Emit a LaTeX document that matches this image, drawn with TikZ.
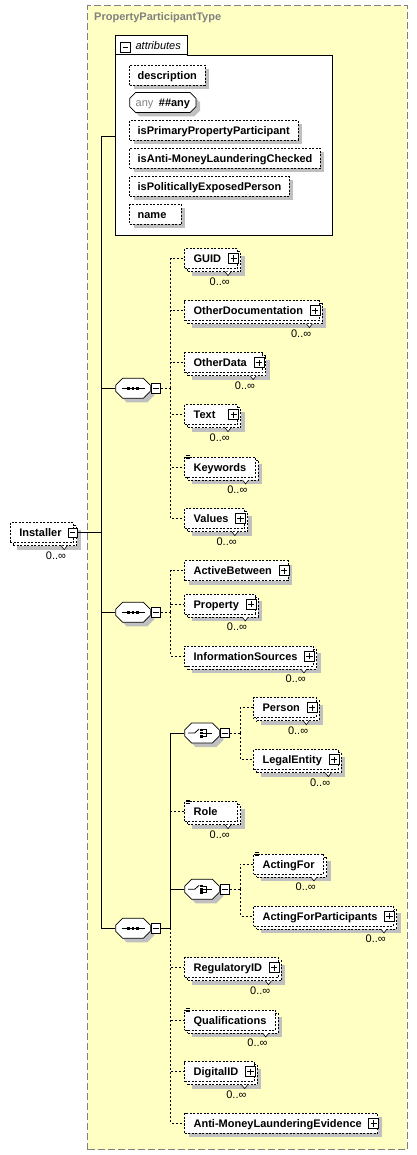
\documentclass[tikz,border=0pt]{standalone}
\usepackage{fontspec}
\setmainfont{Liberation Sans}
\usetikzlibrary{positioning,shapes.misc,shadows}
\definecolor{schemafill}{HTML}{FFFFC4}
\definecolor{shadowgray}{HTML}{C0C0C0}
\definecolor{framegray}{HTML}{808080}

\begin{document}
\begin{tikzpicture}[x=1pt, y=-1pt, font=\fontsize{11}{13}\selectfont,
  schema/.style={draw=framegray, fill=schemafill, line width=0.8pt, dash pattern=on 7pt off 3pt, inner sep=0pt},
  title/.style={text=framegray, font=\fontsize{11}{13}\selectfont\bfseries, inner sep=0pt},
  tab/.style={draw, fill=white, line width=0.8pt, inner sep=0pt, font=\fontsize{11}{13}\selectfont\itshape},
  elem/.style={draw, dash pattern=on 2pt off 1.5pt, line width=0.7pt, fill=white, anchor=west, inner xsep=9pt, inner ysep=0pt,
    minimum height=20pt, text height=9.5pt, text depth=1pt, font=\fontsize{11}{13}\selectfont\bfseries,
    append after command={\pgfextra{\let\elemnode=\tikzlastnode}}},
  attrib/.style={elem, single, inner xsep=8pt},
  anyattr/.style={chamfered rectangle, chamfered rectangle xsep=3pt, chamfered rectangle ysep=3pt, draw, line width=0.7pt, fill=white,
    anchor=west, inner xsep=3pt, inner ysep=0pt, minimum height=20pt, text height=9.5pt, text depth=1pt, single},
  single/.style={drop shadow={shadow xshift=4pt, shadow yshift=-4pt, fill=shadowgray, opacity=1}},
  many/.style={drop shadow={shadow xshift=7pt, shadow yshift=-7pt, fill=shadowgray, opacity=1},
    copy shadow={shadow xshift=3pt, shadow yshift=-3pt, draw=black, fill=white, dash pattern=on 2pt off 1.5pt},
    append after command={node[notch] (\elemnode-notch) at ([xshift=-10pt,yshift=-2.5pt]\elemnode.south east) {}
      node[mult] (\elemnode-occ) at ([xshift=-8pt,yshift=-8.5pt]\elemnode.south east) {0..∞}}},
  notch/.style={anchor=north, inner sep=0pt, minimum width=7pt, minimum height=4.5pt,
    path picture={\fill[white] ([xshift=0.5pt]path picture bounding box.north west) -- ([yshift=0.6pt]path picture bounding box.south)
        -- ([xshift=-0.5pt]path picture bounding box.north east) -- cycle;
      \draw[line width=0.6pt] ([xshift=0.5pt]path picture bounding box.north west) -- ([yshift=0.6pt]path picture bounding box.south)
        -- ([xshift=-0.5pt]path picture bounding box.north east);}},
  mult/.style={anchor=north east, inner sep=0pt, font=\fontsize{11}{13}\selectfont},
  plus/.style={execute at end node={\hspace{7pt}},
    append after command={node[plusbox] (\elemnode-plus) at ([xshift=1pt]\elemnode.east) {}}},
  plusbox/.style={draw, solid, fill=white, line width=0.6pt, minimum size=10pt, inner sep=0pt, anchor=east,
    path picture={\draw[line width=0.6pt] ([yshift=-3.2pt]path picture bounding box.center) -- ([yshift=3.2pt]path picture bounding box.center)
      ([xshift=-3.2pt]path picture bounding box.center) -- ([xshift=3.2pt]path picture bounding box.center);}},
  simple/.style={append after command={node[simplemark] (\elemnode-mark) at ([xshift=0.5pt,yshift=2.5pt]\elemnode.north west) {}}},
  simplemark/.style={anchor=north west, inner sep=0pt, minimum width=5.5pt, minimum height=5pt,
    path picture={\draw[line width=0.6pt] ([xshift=0.5pt,yshift=1.6pt]path picture bounding box.west) -- ++(4.5pt,0)
      ([xshift=0.5pt]path picture bounding box.west) -- ++(4.5pt,0)
      ([xshift=0.5pt,yshift=-1.6pt]path picture bounding box.west) -- ++(4.5pt,0);}},
  comp/.style={chamfered rectangle, chamfered rectangle xsep=3.5pt, chamfered rectangle ysep=3.5pt, draw, line width=0.7pt, fill=white,
    anchor=west, inner xsep=0pt, inner ysep=0pt, minimum height=20pt, text height=9.5pt, text depth=1pt,
    execute at begin node={\hspace*{27.7pt}}, single},
  seqicon/.style={path picture={
      \draw[line width=0.8pt] ([xshift=6pt]path picture bounding box.west) -- ([xshift=-5pt]path picture bounding box.east);
      \fill[black] ([xshift=-4.3pt]path picture bounding box.center) +(-1.4pt,-1.4pt) rectangle +(1.4pt,1.4pt);
      \fill[black] (path picture bounding box.center) +(-1.4pt,-1.4pt) rectangle +(1.4pt,1.4pt);
      \fill[black] ([xshift=4.3pt]path picture bounding box.center) +(-1.4pt,-1.4pt) rectangle +(1.4pt,1.4pt);}},
  choiceicon/.style={path picture={
      \draw[line width=0.8pt] ([xshift=3.5pt]path picture bounding box.west) -- ([xshift=10pt]path picture bounding box.west)
        -- ([xshift=14.5pt,yshift=4pt]path picture bounding box.west);
      \fill[black] ([xshift=17pt,yshift=3.3pt]path picture bounding box.west) +(-1.2pt,-1.2pt) rectangle +(1.2pt,1.2pt);
      \fill[black] ([xshift=17pt]path picture bounding box.west) +(-1.2pt,-1.2pt) rectangle +(1.2pt,1.2pt);
      \fill[black] ([xshift=17pt,yshift=-3.3pt]path picture bounding box.west) +(-1.2pt,-1.2pt) rectangle +(1.2pt,1.2pt);
      \draw[line width=0.6pt] ([xshift=18pt,yshift=3.3pt]path picture bounding box.west) -| ([xshift=22pt,yshift=-3.3pt]path picture bounding box.west)
        -- ([xshift=18pt,yshift=-3.3pt]path picture bounding box.west)
        ([xshift=18pt]path picture bounding box.west) -- ([xshift=27pt]path picture bounding box.west);}},
  minusbox/.style={draw, solid, fill=white, line width=0.6pt, minimum size=9.5pt, inner sep=0pt,
    path picture={\draw[line width=0.6pt] ([xshift=2pt]path picture bounding box.west) -- ([xshift=-2pt]path picture bounding box.east);}},
  req/.style={line width=0.8pt},
  opt/.style={line width=0.8pt, dash pattern=on 2pt off 2pt}]

  \useasboundingbox (0,0) rectangle (417,1155);

  % Type frame
  \node[schema, anchor=north west, minimum width=319.4pt, minimum height=1144pt] (ptype) at (87.3,5.3) {};
  \node[title, anchor=west] (ptitle) at (94,17.7) {PropertyParticipantType};

  % Attributes
  \node[draw, fill=white, line width=0.8pt, anchor=north west, minimum width=216.4pt, minimum height=180pt, inner sep=0pt] (attr) at (115.3,55.3) {};
  \node[tab, anchor=south west, minimum width=72pt, minimum height=19.3pt] (attrtab) at (115.3,55.3) {\hspace{13pt}attributes};
  \draw[white, line width=1.2pt] ([xshift=0.7pt]attrtab.south west) -- ([xshift=-0.7pt]attrtab.south east);
  \node[minusbox] (attrm) at (125.3,47.3) {};
  \node[attrib] (description) at (129.3,75) {description};
  \node[anyattr] (anyattr) at (129.3,102.5) {\textcolor{framegray}{any}\enspace\textbf{\#\#any}};
  \node[attrib] (isprimary) at (129.3,130) {isPrimaryPropertyParticipant};
  \node[attrib] (isamlchecked) at (129.3,158.5) {isAnti-MoneyLaunderingChecked};
  \node[attrib] (ispep) at (129.3,186.5) {isPoliticallyExposedPerson};
  \node[attrib, text width=35.7pt, align=left] (name) at (129.3,214.5) {name};

  % Root element
  \node[elem, many, execute at end node={\hspace{3.3pt}}] (inst) at (10,532.7) {Installer};
  \node[minusbox, right=-6.5pt of inst] (instm) {};
  \coordinate[right=23.6pt of instm.east] (trunk);

  % Compositors
  \node[comp, seqicon] (seqA) at (115.3,388.3) {};
  \node[minusbox, right=0pt of seqA] (seqAm) {};
  \coordinate[right=10pt of seqAm.east] (busA);
  \node[comp, seqicon] (seqB) at (115.3,612.3) {};
  \node[minusbox, right=0pt of seqB] (seqBm) {};
  \coordinate[right=10pt of seqBm.east] (busB);
  \node[comp, seqicon] (seqC) at (115.3,928.3) {};
  \node[minusbox, right=0pt of seqC] (seqCm) {};
  \coordinate[right=10pt of seqCm.east] (busC);
  \node[comp, choiceicon] (choiceA) at (184.3,733) {};
  \node[minusbox, right=0pt of choiceA] (choiceAm) {};
  \coordinate[right=10.4pt of choiceAm.east] (busD);
  \node[comp, choiceicon] (choiceB) at (184.3,889.3) {};
  \node[minusbox, right=0pt of choiceB] (choiceBm) {};
  \coordinate[right=10.4pt of choiceBm.east] (busE);

  % Elements of the first sequence
  \node[elem, many, plus, text width=35pt, align=left] (guid) at (184.3,258.7) {GUID};
  \node[elem, many, plus] (otherdoc) at (184.3,310.7) {OtherDocumentation};
  \node[elem, many, plus] (otherdata) at (184.3,362.7) {OtherData};
  \node[elem, many, plus, text width=35pt, align=left] (text) at (184.3,414.7) {Text};
  \node[elem, many, simple] (keywords) at (184.3,467) {Keywords};
  \node[elem, many, plus] (values) at (184.3,518.7) {Values};

  % Elements of the second sequence
  \node[elem, single, plus] (activebetween) at (184.3,570.7) {ActiveBetween};
  \node[elem, many, plus] (property) at (184.3,604) {Property};
  \node[elem, many, plus] (infosources) at (184.3,656) {InformationSources};

  % Elements of the third sequence
  \node[elem, many, plus] (person) at (253.3,707.7) {Person};
  \node[elem, many, plus] (legalentity) at (253.3,759.7) {LegalEntity};
  \node[elem, many, simple, text width=35pt, align=left] (role) at (184.3,811.7) {Role};
  \node[elem, many, simple] (actingfor) at (253.3,864) {ActingFor};
  \node[elem, many, plus] (actingforpart) at (253.3,916) {ActingForParticipants};
  \node[elem, many, plus] (regulatoryid) at (184.3,967.7) {RegulatoryID};
  \node[elem, many, simple] (qualifications) at (184.3,1020) {Qualifications};
  \node[elem, many, plus] (digitalid) at (184.3,1071.7) {DigitalID};
  \node[elem, single, plus] (amlevidence) at (184.3,1123.3) {Anti-MoneyLaunderingEvidence};

  % Lines
  \draw[req] (instm) -- (trunk);
  \draw[req] (trunk) |- ([yshift=9.3pt]attr.west);
  \draw[req] (trunk) |- (seqA.west);
  \draw[req] (trunk) |- (seqB.west);
  \draw[req] (trunk) |- (seqC.west);

  \draw[opt] (seqAm) -- (busA);
  \draw[opt] (busA) |- (guid.west);
  \draw[opt] (busA) |- (otherdoc.west);
  \draw[opt] (busA) |- (otherdata.west);
  \draw[opt] (busA) |- (text.west);
  \draw[opt] (busA) |- (keywords.west);
  \draw[opt] (busA) |- (values.west);

  \draw[opt] (seqBm) -- (busB);
  \draw[opt] (busB) |- (activebetween.west);
  \draw[opt] (busB) |- (property.west);
  \draw[opt] (busB) |- (infosources.west);

  \draw[req] (seqCm) -- (busC);
  \draw[req] (busC) |- (choiceA.west);
  \draw[req] (busC) |- (choiceB.west);
  \draw[opt] (busC) |- (role.west);
  \draw[opt] (busC) |- (regulatoryid.west);
  \draw[opt] (busC) |- (qualifications.west);
  \draw[opt] (busC) |- (digitalid.west);
  \draw[opt] (busC) |- (amlevidence.west);

  \draw[opt] (choiceAm) -- (busD);
  \draw[opt] (busD) |- (person.west);
  \draw[opt] (busD) |- (legalentity.west);
  \draw[opt] (choiceBm) -- (busE);
  \draw[opt] (busE) |- (actingfor.west);
  \draw[opt] (busE) |- (actingforpart.west);
\end{tikzpicture}
\end{document}
